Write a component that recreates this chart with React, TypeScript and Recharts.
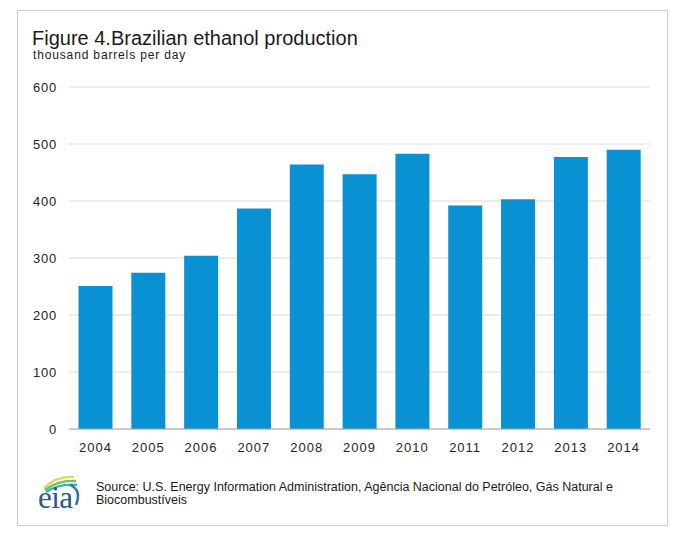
import React from "react";
import { BarChart, Bar, XAxis, YAxis, CartesianGrid } from "recharts";

const years = ["2004", "2005", "2006", "2007", "2008", "2009", "2010", "2011", "2012", "2013", "2014"];
const production = [251, 274, 304, 387, 464, 447, 483, 392, 403, 477, 490];
const yTicks = [0, 100, 200, 300, 400, 500, 600];
const boundaryTicks = [0, 1, 2, 3, 4, 5, 6, 7, 8, 9, 10, 11];

const data = years.map((y, i) => ({ year: y, value: production[i] }));

const FONT = "'Liberation Sans', Arial, sans-serif";

export default function App() {
  return (
    <div style={{ position: "absolute", left: 0, top: 0, width: 681, height: 537, background: "#fff", fontFamily: FONT }}>
      <div style={{ position: "absolute", left: 17, top: 10, width: 651, height: 516, border: "1px solid #d0d0d0", boxSizing: "border-box" }} />
      <div style={{ position: "absolute", left: 32, top: 27, fontSize: 20, color: "#1a1a1a", whiteSpace: "nowrap", lineHeight: "22px" }}>
        Figure 4.Brazilian ethanol production
      </div>
      <div style={{ position: "absolute", left: 33, top: 48, fontSize: 12, color: "#1a1a1a", whiteSpace: "nowrap", letterSpacing: 0.85, lineHeight: "14px" }}>
        thousand barrels per day
      </div>
      <div style={{ position: "absolute", left: 0, top: 0 }}>
        <BarChart width={681} height={537} data={data} margin={{ top: 87, right: 31, bottom: 77, left: 0 }} barCategoryGap="18%">
          <CartesianGrid vertical={false} stroke="#d9d9d9" xAxisId="cat" />
          <XAxis
            xAxisId="bound"
            type="number"
            domain={[0, 11]}
            ticks={boundaryTicks}
            height={1}
            tick={false}
            tickSize={4}
            tickLine={{ stroke: "#a6a6a6" }}
            axisLine={{ stroke: "#a6a6a6" }}
            orientation="bottom"
            allowDataOverflow
          />
          <XAxis
            dataKey="year"
            xAxisId="cat"
            height={30}
            tickLine={false}
            axisLine={false}
            tick={{ fill: "#262626", fontSize: 13, fontFamily: FONT, letterSpacing: 1 }}
            tickSize={0}
            tickMargin={13}
            interval={0}
          />
          <YAxis
            width={69}
            domain={[0, 600]}
            ticks={yTicks}
            tickLine={false}
            axisLine={false}
            tickSize={0}
            tickMargin={12}
            tick={{ fill: "#262626", fontSize: 13, fontFamily: FONT, letterSpacing: 0.8 }}
          />
          <Bar dataKey="value" xAxisId="cat" fill="#0A91D4" isAnimationActive={false} />
        </BarChart>
      </div>
      <svg style={{ position: "absolute", left: 30, top: 470 }} width={56} height={44}>
        <path d="M14 18 Q26 6 44 7" stroke="#d2dc5a" strokeWidth={2.4} fill="none" />
        <path d="M15 20 Q28 10 46 11" stroke="#7cc04c" strokeWidth={2.4} fill="none" />
        <path d="M16 22 Q30 13 47 15" stroke="#30b0d0" strokeWidth={2.4} fill="none" />
        <path d="M40 15 Q52 20 46 35" stroke="#1a78b0" strokeWidth={2.4} fill="none" />
        <text x={8} y={38} fontFamily="'Liberation Serif', 'DejaVu Serif', serif" fontSize={31} fill="#2c5b86" letterSpacing={-0.5}>eia</text>
      </svg>
      <div style={{ position: "absolute", left: 96, top: 481, fontSize: 12.5, color: "#1a1a1a", lineHeight: "13px", letterSpacing: 0, whiteSpace: "nowrap" }}>
        Source: U.S. Energy Information Administration, Agência Nacional do Petróleo, Gás Natural e
        <br />
        Biocombustíveis
      </div>
    </div>
  );
}
